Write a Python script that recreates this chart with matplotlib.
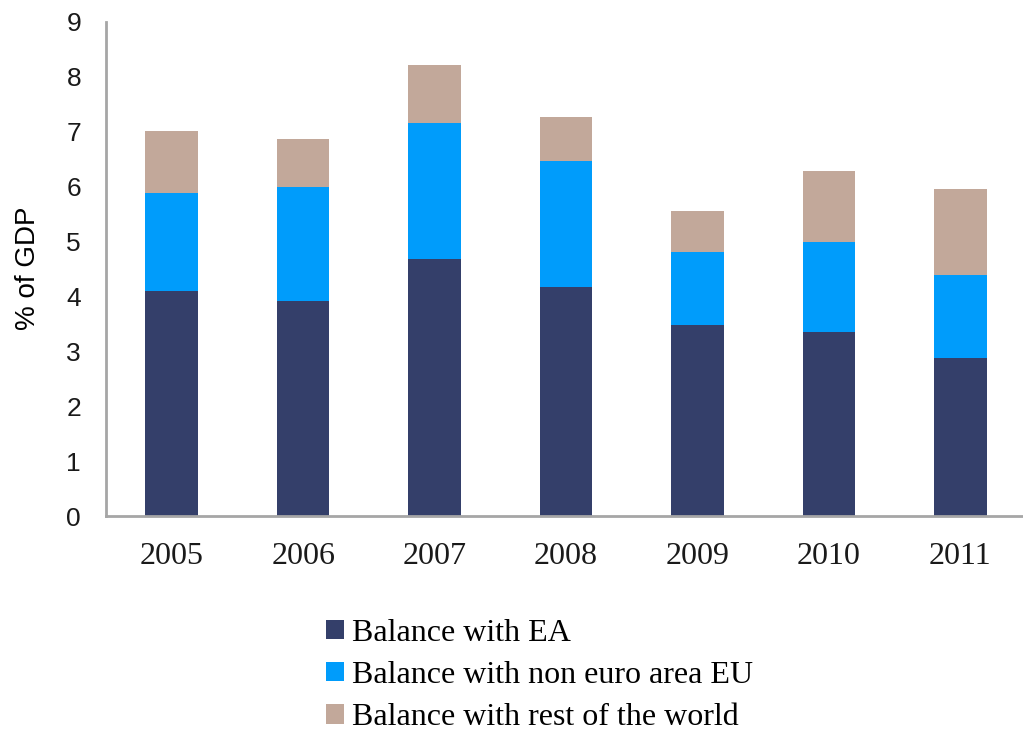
import numpy as np
import matplotlib.pyplot as plt

# Current account balance by partner, % of GDP
years = ['2005', '2006', '2007', '2008', '2009', '2010', '2011']
balance_ea = [4.10, 3.92, 4.68, 4.17, 3.47, 3.34, 2.88]
balance_non_ea_eu = [1.77, 2.07, 2.48, 2.30, 1.33, 1.65, 1.50]
balance_rest = [1.13, 0.88, 1.04, 0.80, 0.76, 1.29, 1.57]

labels = ['Balance with EA', 'Balance with non euro area EU',
          'Balance with rest of the world']
colors = ['#343F6A', '#009CFB', '#C2A89A']

fig = plt.figure(figsize=(10.23, 7.32), dpi=100)
ax = fig.add_axes([106 / 1023, 1 - 516 / 732, 920 / 1023, 494.5 / 732])

x = np.arange(len(years))
width = 0.40
bottom = np.zeros(len(years))
for vals, lab, col in zip([balance_ea, balance_non_ea_eu, balance_rest], labels, colors):
    ax.bar(x, vals, width, bottom=bottom, color=col, label=lab, linewidth=0)
    bottom += np.array(vals)

ax.set_xlim(-0.5, 6.5)
ax.set_ylim(0, 9)
ax.set_yticks(range(0, 10))
ax.set_xticks(x)
ax.set_xticklabels(years, family='Liberation Serif', fontsize=23)
for t in ax.get_yticklabels():
    t.set_family('Liberation Sans')
    t.set_fontsize(19)
ax.tick_params(axis='both', length=0, colors='#1a1a1a')
ax.tick_params(axis='x', pad=19)
ax.tick_params(axis='y', pad=18)

for s in ['top', 'right']:
    ax.spines[s].set_visible(False)
for s in ['bottom', 'left']:
    ax.spines[s].set_color('#A6A6A6')
    ax.spines[s].set_linewidth(2)

ax.set_ylabel('% of GDP', family='Liberation Sans', fontsize=20, labelpad=18)

fig.legend(loc='upper left', bbox_to_anchor=(326 / 1023, 1 - 619 / 732),
           frameon=False, handlelength=0.55, handleheight=0.55,
           handletextpad=0.25, labelspacing=0.41, borderpad=0, borderaxespad=0,
           prop={'family': 'Liberation Serif', 'size': 23})

fig.savefig('out.png', dpi=100, facecolor='white')
